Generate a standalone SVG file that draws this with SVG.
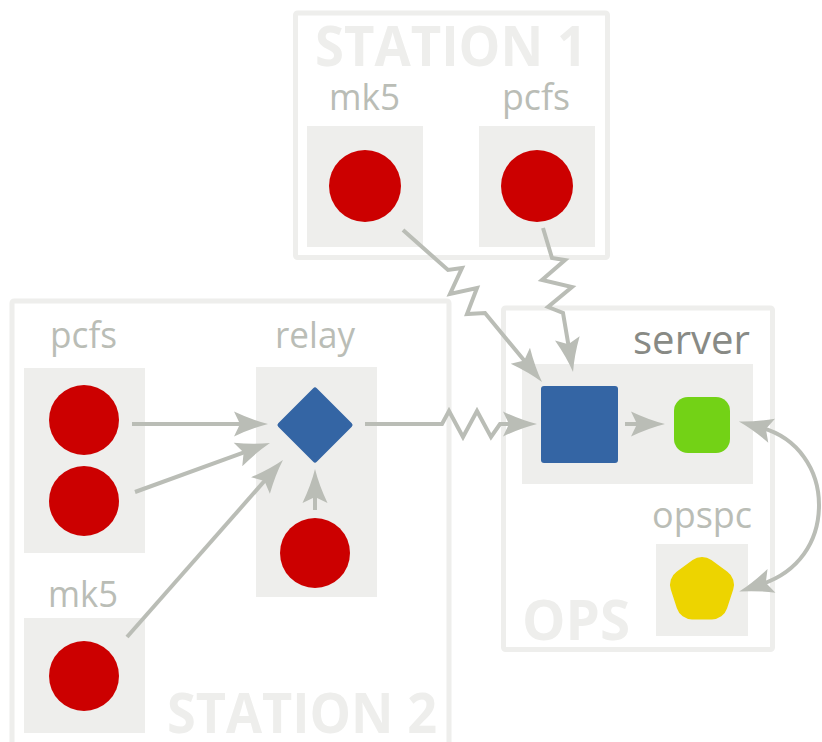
<svg xmlns="http://www.w3.org/2000/svg" width="822" height="742" viewBox="0 0 822 742">
  <style>
    .frame { fill: #ffffff; stroke: #eeeeec; stroke-width: 5; }
    .title { font-family: "Open Sans", "Liberation Sans", sans-serif; font-weight: 700; font-size: 56px; fill: #eeeeec; }
    .label { font-family: "Open Sans", "Liberation Sans", sans-serif; font-size: 36px; fill: #babdb6; }
    .label-dark { font-family: "Open Sans", "Liberation Sans", sans-serif; font-size: 40px; fill: #888a85; }
    .box { fill: #eeeeec; }
    .proc { fill: #cc0000; }
    .edge { fill: none; stroke: #babdb6; stroke-width: 4; stroke-linejoin: miter; }
  </style>
  <defs>
    <marker id="arrow" markerUnits="userSpaceOnUse" markerWidth="40" markerHeight="30" refX="8" refY="0" orient="auto" overflow="visible">
      <path d="M32,0 Q16,-4 -2,-12.5 L4,0 L-2,12.5 Q16,4 32,0 Z" fill="#babdb6"/>
    </marker>
    <marker id="arrow-start" markerUnits="userSpaceOnUse" markerWidth="40" markerHeight="30" refX="8" refY="0" orient="auto-start-reverse" overflow="visible">
      <path d="M32,0 Q16,-4 -2,-12.5 L4,0 L-2,12.5 Q16,4 32,0 Z" fill="#babdb6"/>
    </marker>
  </defs>

  <!-- site frames -->
  <g id="station1">
    <rect class="frame" x="295.5" y="13" width="312" height="244.5" rx="2"/>
    <text class="title" x="315" y="66" textLength="272" lengthAdjust="spacingAndGlyphs">STATION 1</text>
  </g>
  <g id="station2">
    <rect class="frame" x="12" y="301" width="437" height="460" rx="2"/>
    <text class="title" x="167" y="733" textLength="270" lengthAdjust="spacingAndGlyphs">STATION 2</text>
  </g>
  <g id="ops">
    <rect class="frame" x="503.5" y="308" width="269" height="341.5" rx="2"/>
    <text class="title" x="522" y="640" textLength="108" lengthAdjust="spacingAndGlyphs">OPS</text>
  </g>

  <!-- station 1 hosts -->
  <g id="s1-mk5">
    <text class="label" x="329" y="110" textLength="71" lengthAdjust="spacingAndGlyphs">mk5</text>
    <rect class="box" x="307" y="126" width="116" height="121"/>
    <circle class="proc" cx="365" cy="186" r="36"/>
  </g>
  <g id="s1-pcfs">
    <text class="label" x="502" y="110" textLength="68" lengthAdjust="spacingAndGlyphs">pcfs</text>
    <rect class="box" x="479" y="126" width="116" height="121"/>
    <circle class="proc" cx="537" cy="186" r="36"/>
  </g>

  <!-- station 2 hosts -->
  <g id="s2-pcfs">
    <text class="label" x="50" y="348" textLength="67" lengthAdjust="spacingAndGlyphs">pcfs</text>
    <rect class="box" x="24" y="368" width="121" height="185"/>
    <circle class="proc" cx="84" cy="420" r="35"/>
    <circle class="proc" cx="84" cy="501" r="35"/>
  </g>
  <g id="s2-mk5">
    <text class="label" x="48" y="607" textLength="70" lengthAdjust="spacingAndGlyphs">mk5</text>
    <rect class="box" x="24" y="618" width="121" height="115"/>
    <circle class="proc" cx="84" cy="676" r="35"/>
  </g>
  <g id="s2-relay">
    <text class="label" x="275" y="348" textLength="80" lengthAdjust="spacingAndGlyphs">relay</text>
    <rect class="box" x="256" y="367" width="121" height="230"/>
    <polygon points="315,390 350,425 315,460 280,425" fill="#3465a4" stroke="#3465a4" stroke-width="5" stroke-linejoin="round"/>
    <circle class="proc" cx="315" cy="553" r="35"/>
  </g>

  <!-- operations hosts -->
  <g id="server">
    <text class="label-dark" x="633" y="354" textLength="117" lengthAdjust="spacingAndGlyphs">server</text>
    <rect class="box" x="522" y="364" width="231" height="120"/>
    <rect x="541" y="386" width="77" height="77" rx="3" fill="#3465a4"/>
    <rect x="674" y="397" width="56" height="56" rx="14" fill="#73d216"/>
  </g>
  <g id="opspc">
    <text class="label" x="652" y="528" textLength="100" lengthAdjust="spacingAndGlyphs">opspc</text>
    <rect class="box" x="656" y="544" width="92" height="92"/>
    <polygon points="702,573 718,584.6 711.9,603.4 692.1,603.4 686,584.6" fill="#edd400" stroke="#edd400" stroke-width="32" stroke-linejoin="round"/>
  </g>

  <!-- links -->
  <g id="connectors">
    <path class="edge" d="M132,424 L244,424" marker-end="url(#arrow)"/>
    <path class="edge" d="M135,492 L247.4,451.2" marker-end="url(#arrow)"/>
    <path class="edge" d="M127,637 L267.1,478" marker-end="url(#arrow)"/>
    <path class="edge" d="M315,510 L315,493" marker-end="url(#arrow)"/>
    <path class="edge" d="M365,424 L442,424 L449,411 L463,437 L477,411 L491,437 L500,424 L513,424" marker-end="url(#arrow)"/>
    <path class="edge" d="M403,230 L448,270 L462,268 L450,294 L477,288 L467,314 L485,313 L526.7,363.5" marker-end="url(#arrow)"/>
    <path class="edge" d="M543,228 L552,258 L565,260 L542,280 L572,287 L548,307 L563,313 L569,348.3" marker-end="url(#arrow)"/>
    <path class="edge" d="M625,424 L641,424" marker-end="url(#arrow)"/>
    <path class="edge" d="M762,428 C798,438 819,470 819,505 C819,542 798,572 762,584" marker-start="url(#arrow-start)" marker-end="url(#arrow)"/>
  </g>
</svg>
